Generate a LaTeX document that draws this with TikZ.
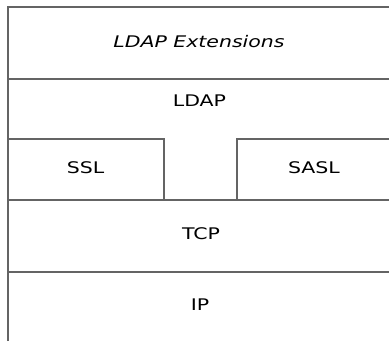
\documentclass[tikz,border=0pt]{standalone}
\usepackage{fontspec}
\setmainfont{DejaVu Sans}
\begin{document}
\begin{tikzpicture}[x=1pt,y=-1pt,
  layer/.style={draw=none,inner sep=0pt,anchor=center,
    font=\fontsize{16}{19}\selectfont,xscale=1.28,text=black},
  rule/.style={draw={rgb,255:red,100;green,100;blue,100},line width=1.6pt}]
\useasboundingbox (0,0) rectangle (389,341);
% layer boundaries
\draw[rule] (8,341) -- (8,7) -- (389,7);
\draw[rule] (8,79) -- (389,79);
\draw[rule] (8,139) -- (164,139) -- (164,200);
\draw[rule] (389,139) -- (237,139) -- (237,200);
\draw[rule] (8,200) -- (389,200);
\draw[rule] (8,272) -- (389,272);
% layer labels
\node[layer] (ext) at (199,41.5) {\itshape LDAP Extensions};
\node[layer] (ldap) at (199.5,100.5) {LDAP};
\node[layer] (ssl) at (85.5,167.5) {SSL};
\node[layer] (sasl) at (314,167.5) {SASL};
\node[layer] (tcp) at (201,233.5) {TCP};
\node[layer] (ip) at (200,305) {IP};
\end{tikzpicture}
\end{document}
